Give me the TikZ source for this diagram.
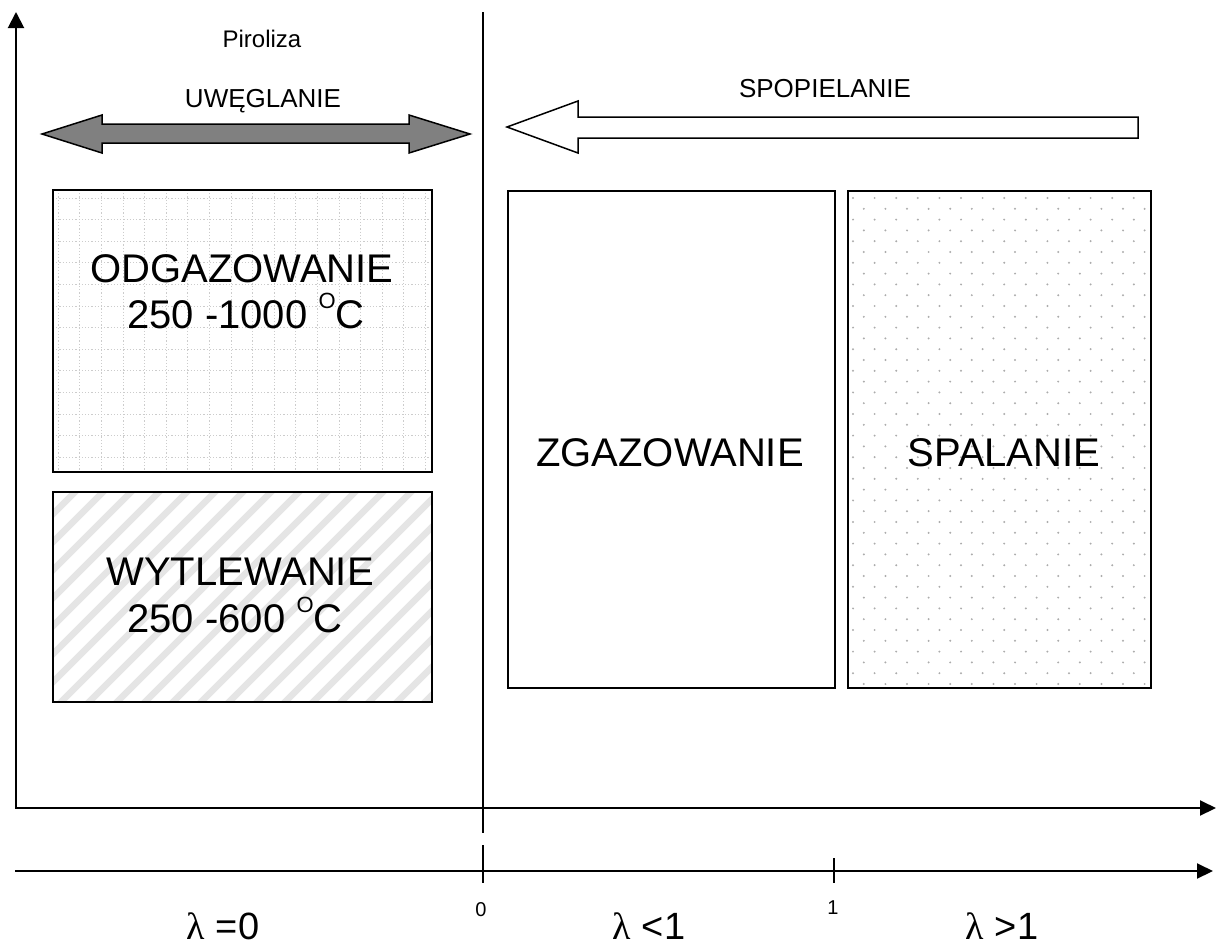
\documentclass[tikz,border=0pt]{standalone}
\usepackage{fontspec}
\setmainfont{Liberation Sans}
\newfontfamily\greekfont{Liberation Serif}
\usetikzlibrary{arrows.meta}
\definecolor{arrowgray}{HTML}{808080}
\newcommand{\fsz}[1]{\fontsize{#1}{#1}\selectfont}
\newcommand{\degO}{\raisebox{20pt}{\fsz{22}O}}
\begin{document}
\begin{tikzpicture}[x=1pt,y=-1pt,
  axisline/.style={line width=2pt, line join=miter},
  thinline/.style={line width=1.2pt},
  box/.style={draw, line width=2pt, inner sep=0pt, outer sep=0pt, anchor=north west},
  gridpat/.style={draw=gray!40, line width=0.9pt, dash pattern=on 1.2pt off 2pt},
  stripe/.style={draw=gray!20, line width=6.5pt},
  dotfill/.style={fill=gray!65},
  bigtext/.style={font=\fsz{40}, inner sep=0pt, anchor=base},
  smalltext/.style={font=\fsz{26}, inner sep=0pt, anchor=base},
  ticktext/.style={font=\fsz{20}, inner sep=0pt, anchor=base},
  lamtext/.style={font=\fsz{38}, inner sep=0pt, anchor=base, text depth=0pt},
  bigarrow/.style={draw, line width=1.5pt, line join=miter}
]
\useasboundingbox (0,0) rectangle (1216,948);

% ---- patterns ----
\begin{scope}
  \clip (53,190) rectangle (432,472);
  \foreach \i in {0,...,18} \draw[gridpat] ({58.3+21.6*\i},190) -- ++(0,282);
  \foreach \j in {0,...,13} \draw[gridpat] (53,{198+21.6*\j}) -- ++(379,0);
\end{scope}
\begin{scope}
  \clip (53,492) rectangle (432,702);
  \foreach \i in {-9,...,14} \draw[stripe] ({53+28*\i},710) -- ++(226,-226);
\end{scope}
\begin{scope}
  \clip (848,191) rectangle (1151,688);
  \foreach \r in {0,...,45}
    \foreach \c in {0,...,14}
      \fill[dotfill] ({853+21.6*\c+10.8*mod(\r,2)},{198+10.8*\r}) circle (1.1);
\end{scope}

% ---- boxes ----
\node[box, minimum width=379pt, minimum height=282pt] (odg) at (53,190) {};
\node[box, minimum width=379pt, minimum height=210pt] (wyt) at (53,492) {};
\node[box, minimum width=327pt, minimum height=497pt] (zga) at (508,191) {};
\node[box, minimum width=303pt, minimum height=497pt] (spa) at (848,191) {};

% ---- box texts ----
\node[bigtext] (odgA) at (242,282) {ODGAZOWANIE};
\node[bigtext] (odgB) at (246,328) {250 -1000 \degO C};
\node[bigtext] (wytA) at (240,585) {WYTLEWANIE};
\node[bigtext] (wytB) at (235,632) {250 -600 \degO C};
\node[bigtext] (zgaT) at (670,466) {ZGAZOWANIE};
\node[bigtext] (spaT) at (1004,466) {SPALANIE};

% ---- top labels ----
\node[smalltext, font=\fsz{24}] (piro) at (262,47) {Piroliza};
\node[smalltext] (uweg) at (263,107) {UWĘGLANIE};
\node[smalltext] (spop) at (825,97) {SPOPIELANIE};

% ---- big arrows ----
\draw[bigarrow, fill=arrowgray] (42,134) -- (102,115) -- (102,124) -- (409,124) -- (409,115)
  -- (470,134) -- (409,153) -- (409,143) -- (102,143) -- (102,153) -- cycle;
\draw[bigarrow, fill=white] (507,127) -- (578,101) -- (578,117) -- (1138,117) -- (1138,138)
  -- (578,138) -- (578,153) -- cycle;

% ---- axes ----
\coordinate (origin) at (16,808);
\coordinate (ytop) at (16,12);
\coordinate (xend) at (1216,808);
\draw[axisline, {Triangle[length=16pt,width=16pt]}-{Triangle[length=16pt,width=15pt]}] (ytop) -- (origin) -- (xend);

\coordinate (lstart) at (15,871);
\coordinate (lend) at (1213,871);
\draw[axisline, -{Triangle[length=16pt,width=15pt]}] (lstart) -- (lend);

\coordinate (divtop) at (483,12);
\coordinate (divbot) at (483,833);
\coordinate (tick0top) at (483,845);
\coordinate (tick0bot) at (483,883);
\coordinate (tick1top) at (834,858);
\coordinate (tick1bot) at (834,883);
\draw[thinline] (divtop) -- (divbot);
\draw[thinline] (tick0top) -- (tick0bot);
\draw[thinline] (tick1top) -- (tick1bot);

\node[ticktext] (t0) at (481,916) {0};
\node[ticktext] (t1) at (833,914) {1};

\node[lamtext] (lam0) at (223,939) {{\greekfont λ} =0};
\node[lamtext] (lam1) at (649,939) {{\greekfont λ} <1};
\node[lamtext] (lam2) at (1002,939) {{\greekfont λ} >1};
\end{tikzpicture}
\end{document}
